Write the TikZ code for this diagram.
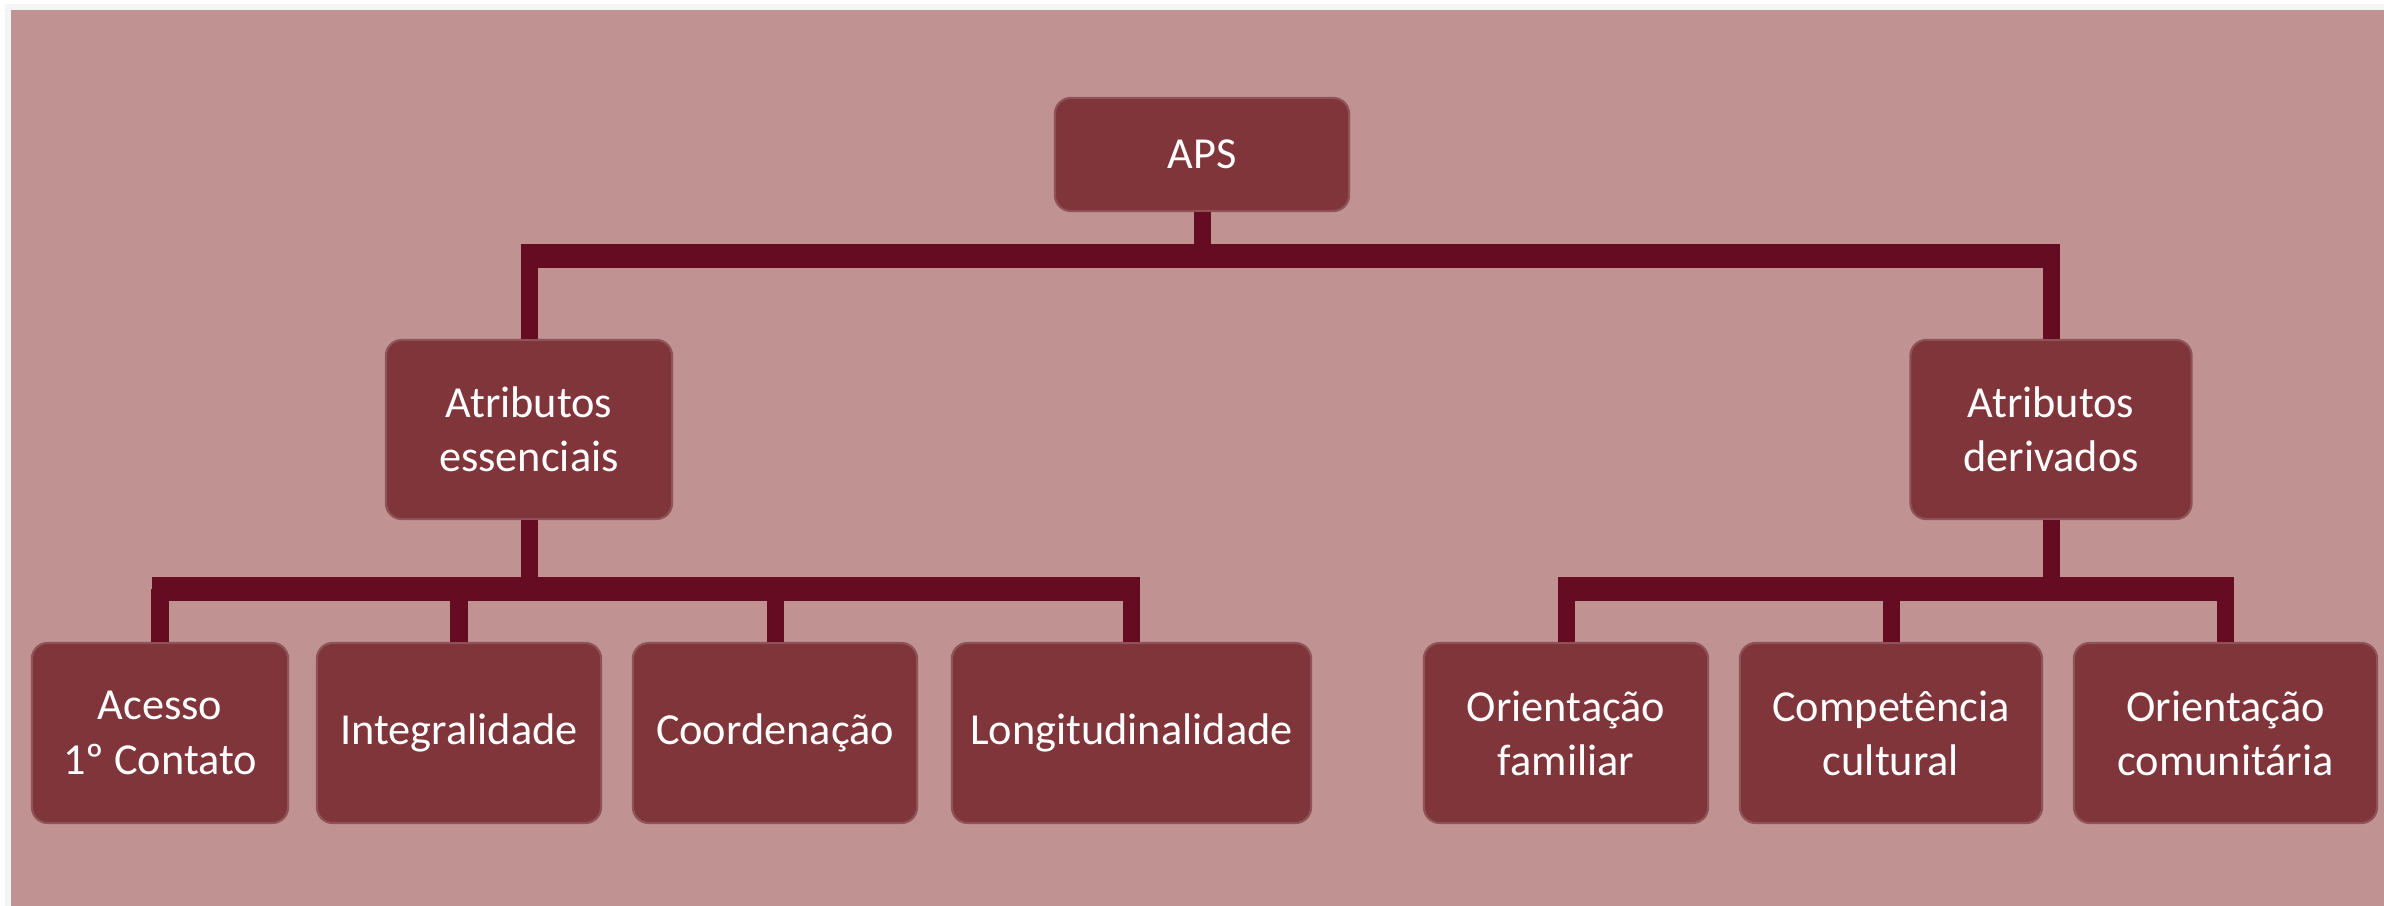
\documentclass[tikz,border=0pt]{standalone}
\usepackage{fontspec}
\setmainfont{Carlito}
\usetikzlibrary{calc}
\definecolor{bgc}{HTML}{C09291}
\definecolor{boxc}{HTML}{7F353A}
\definecolor{linec}{HTML}{650B22}
\definecolor{edgec}{HTML}{8E5358}
\begin{document}
\begin{tikzpicture}[x=0.01cm,y=-0.01cm,
  box/.style={draw=edgec, line width=0.6pt, fill=boxc, rounded corners=4.5pt,
    text=white, align=center, inner sep=0pt,
    font=\fontsize{12.6pt}{15.4pt}\selectfont},
  stem/.style={draw=linec, line width=0.17cm, line cap=butt},
  bar/.style={draw=linec, line width=0.24cm, line cap=butt}]
\useasboundingbox (0,0) rectangle (2384,906);
\fill[gray!8] (5,4) rectangle (2384,906);
\fill[bgc] (11,10) rectangle (2384,906);
% nodes
\node[box, minimum width=2.94cm, minimum height=1.13cm] (aps) at (1202,154.5) {APS};
\node[box, minimum width=2.86cm, minimum height=1.79cm] (ae) at (529,429.5) {Atributos\\essenciais};
\node[box, minimum width=2.81cm, minimum height=1.79cm] (ad) at (2051,429.5) {Atributos\\derivados};
\node[box, minimum width=2.56cm, minimum height=1.80cm] (acc) at (160,733) {Acesso\\1º Contato};
\node[box, minimum width=2.84cm, minimum height=1.80cm] (int) at (459,733) {Integralidade};
\node[box, minimum width=2.84cm, minimum height=1.80cm] (coo) at (775,733) {Coordenação};
\node[box, minimum width=3.59cm, minimum height=1.80cm] (lon) at (1131.5,733) {Longitudinalidade};
\node[box, minimum width=2.84cm, minimum height=1.80cm] (ofa) at (1566,733) {Orientação\\familiar};
\node[box, minimum width=3.02cm, minimum height=1.80cm] (com) at (1891,733) {Competência\\cultural};
\node[box, minimum width=3.03cm, minimum height=1.80cm] (oco) at (2225.5,733) {Orientação\\comunitária};
% bar levels
\coordinate (b1) at (0,256);
\coordinate (b2) at (0,589);
% level 1 connectors
\draw[stem] (aps.south) -- (aps.south |- b1);
\draw[bar] ($(ae.north |- b1)+(-8.5,0)$) -- ($(ad.north |- b1)+(8.5,0)$);
\draw[stem] (ae.north |- b1) -- (ae.north);
\draw[stem] (ad.north |- b1) -- (ad.north);
% level 2 left
\draw[stem] (ae.south) -- (ae.south |- b2);
\draw[bar] ($(acc.north |- b2)+(-8.5,0)$) -- ($(lon.north |- b2)+(8.5,0)$);
\foreach \n in {acc,int,coo,lon} \draw[stem] (\n.north |- b2) -- (\n.north);
% level 2 right
\draw[stem] (ad.south) -- (ad.south |- b2);
\draw[bar] ($(ofa.north |- b2)+(-8.5,0)$) -- ($(oco.north |- b2)+(8.5,0)$);
\foreach \n in {ofa,com,oco} \draw[stem] (\n.north |- b2) -- (\n.north);
\end{tikzpicture}
\end{document}
